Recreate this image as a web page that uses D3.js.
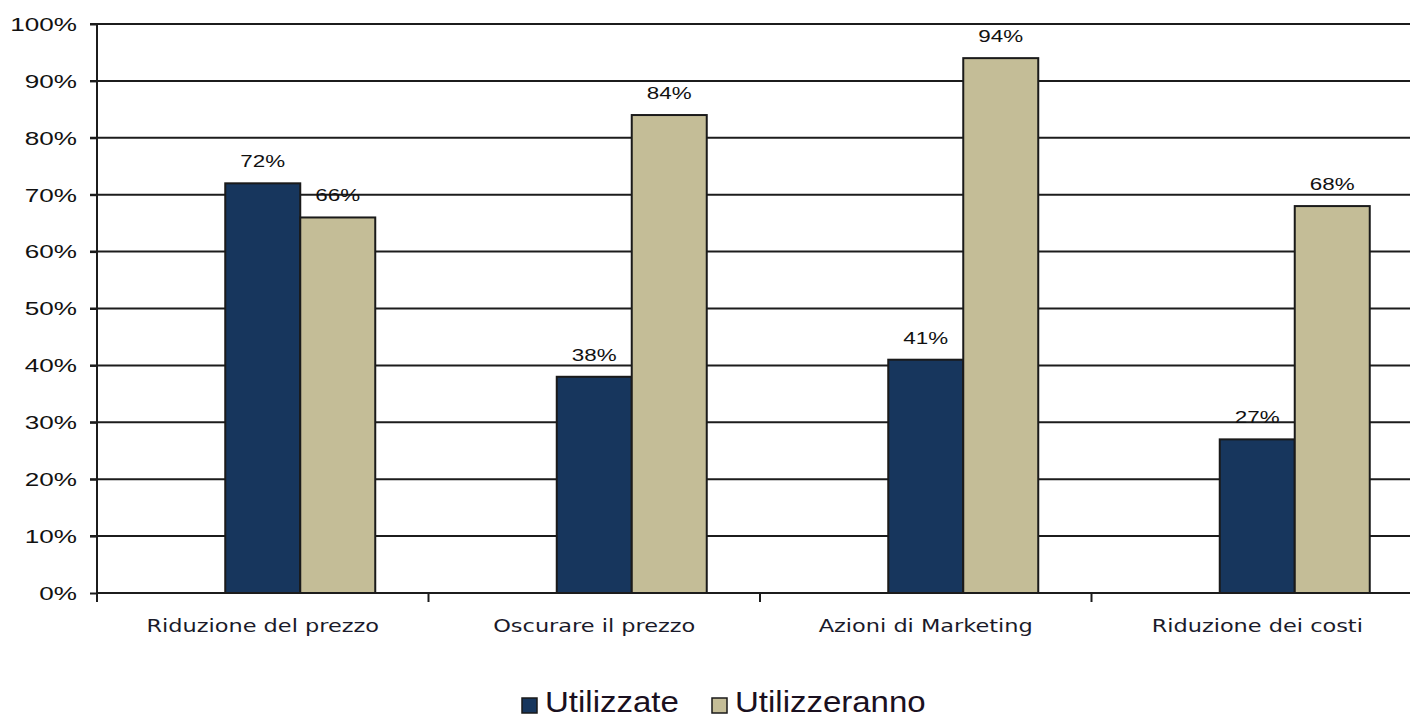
<!DOCTYPE html>
<html>
<head>
<meta charset="utf-8">
<script src="https://cdn.jsdelivr.net/npm/d3@7"></script>
<style>
    * { margin: 0; padding: 0; }
    body { background: #fff; width: 1410px; height: 719px; overflow: hidden; }
    svg { display: block; }
</style>
</head>
<body>
<div id="chart"></div>
<script>
    // Data
    const categories = ["Riduzione del prezzo", "Oscurare il prezzo", "Azioni di Marketing", "Riduzione dei costi"];
    const seriesNames = ["Utilizzate", "Utilizzeranno"];
    const utilizzate = [72, 38, 41, 27];
    const utilizzeranno = [66, 84, 94, 68];
    const yTicks = [0, 10, 20, 30, 40, 50, 60, 70, 80, 90, 100];
    const colors = ["#17365d", "#c4bd97"];

    const W = 1410, H = 719;
    const plotLeft = 97, plotTop = 24, plotBottom = 593;
    const plotRight = plotLeft + 4 * 331.5; // plot runs past the right edge of the picture

    const svg = d3.select("#chart").append("svg")
        .attr("width", W)
        .attr("height", H);

    const y = d3.scaleLinear().domain([0, 100]).range([plotBottom, plotTop]);
    const x = d3.scaleBand().domain(categories).range([plotLeft, plotRight]).paddingInner(0).paddingOuter(0);
    // Excel slot layout had three series slots, the first one empty
    const inner = d3.scaleBand().domain(["_", "a", "b"]).range([0, x.bandwidth()]).paddingOuter(0.71).paddingInner(0);

    // gridlines
    svg.append("g").selectAll("line")
        .data(yTicks.filter(d => d > 0))
        .join("line")
        .attr("x1", plotLeft - 7).attr("x2", plotRight)
        .attr("y1", d => y(d)).attr("y2", d => y(d))
        .attr("stroke", "#1c1c1c").attr("stroke-width", 2);

    // y axis
    const yAxis = svg.append("g")
        .attr("transform", `translate(${plotLeft},0)`)
        .call(d3.axisLeft(y).tickValues(yTicks).tickSize(7).tickPadding(14).tickFormat(d => d + "%"));
    yAxis.select(".domain").attr("stroke", "#1c1c1c").attr("stroke-width", 2).attr("d", `M0,${plotTop}V${plotBottom + 9}`);
    yAxis.selectAll(".tick line").attr("stroke", "#1c1c1c").attr("stroke-width", 2);
    yAxis.selectAll(".tick text")
        .attr("font-family", "Arial, 'Liberation Sans', sans-serif")
        .attr("font-size", 18)
        .attr("fill", "#111")
        .attr("x", null)
        .attr("dy", "0.35em")
        .attr("text-anchor", "end")
        .attr("transform", "translate(-20,0) scale(1.45,1)");

    // bars
    const series = [utilizzate, utilizzeranno];
    const keys = ["a", "b"];
    series.forEach((vals, s) => {
        svg.append("g").selectAll("rect")
            .data(vals)
            .join("rect")
            .attr("x", (d, i) => x(categories[i]) + inner(keys[s]))
            .attr("width", inner.bandwidth())
            .attr("y", d => y(d))
            .attr("height", d => y(0) - y(d))
            .attr("fill", colors[s])
            .attr("stroke", "#1a1a1a")
            .attr("stroke-width", 2);

        // value labels
        svg.append("g").selectAll("text")
            .data(vals)
            .join("text")
            .attr("transform", (d, i) => `translate(${x(categories[i]) + inner(keys[s]) + inner.bandwidth() / 2},${y(d) - 16}) scale(1.4,1)`)
            .attr("text-anchor", "middle")
            .attr("font-family", "Arial, 'Liberation Sans', sans-serif")
            .attr("font-size", 16)
            .attr("fill", "#111")
            .text(d => d + "%");
    });

    // x axis line + ticks
    svg.append("line")
        .attr("x1", plotLeft).attr("x2", plotRight)
        .attr("y1", plotBottom).attr("y2", plotBottom)
        .attr("stroke", "#1c1c1c").attr("stroke-width", 2);
    svg.append("g").selectAll("line")
        .data(categories.slice(1))
        .join("line")
        .attr("x1", d => x(d)).attr("x2", d => x(d))
        .attr("y1", plotBottom).attr("y2", plotBottom + 9)
        .attr("stroke", "#1c1c1c").attr("stroke-width", 2);

    // category labels
    svg.append("g").selectAll("text")
        .data(categories)
        .join("text")
        .attr("transform", d => `translate(${x(d) + x.bandwidth() / 2},${plotBottom + 39}) scale(1.32,1)`)
        .attr("text-anchor", "middle")
        .attr("font-family", "'DejaVu Sans', Tahoma, sans-serif")
        .attr("font-size", 17)
        .attr("fill", "#1a1a2a")
        .text(d => d);

    // legend
    const legendX = [522, 712];
    const legend = svg.append("g");
    seriesNames.forEach((name, i) => {
        legend.append("rect")
            .attr("x", legendX[i]).attr("y", 698)
            .attr("width", 15).attr("height", 15)
            .attr("fill", colors[i])
            .attr("stroke", "#1a1a1a").attr("stroke-width", 1.5);
        legend.append("text")
            .attr("transform", `translate(${legendX[i] + 23},712) scale(1.1,1)`)
            .attr("font-family", "Arial, 'Liberation Sans', sans-serif")
            .attr("font-size", 30)
            .attr("fill", "#1a1020")
            .text(name);
    });
</script>
</body>
</html>
